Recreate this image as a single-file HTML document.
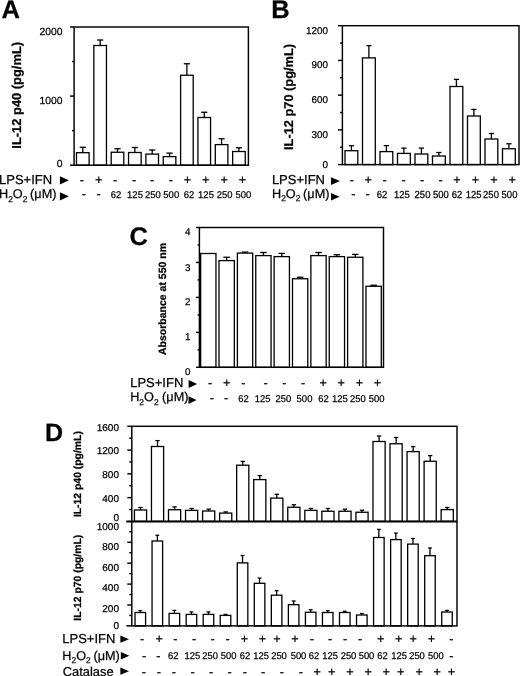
<!DOCTYPE html>
<html><head><meta charset="utf-8"><style>
html,body{margin:0;padding:0;background:#fff;}
svg{display:block;will-change:transform;}
text{font-family:"Liberation Sans",sans-serif;fill:#000;stroke:#000;stroke-width:0.25px;text-rendering:geometricPrecision;}
</style></head><body>
<svg width="520" height="676" viewBox="0 0 520 676">
<g stroke="#000" fill="none">
<text x="1.60" y="17.70" font-size="25.5" text-anchor="start" font-weight="bold">A</text>
<rect x="76.50" y="152.70" width="12.60" height="12.50" fill="#fff" stroke-width="1.3"/>
<line x1="82.80" y1="152.70" x2="82.80" y2="147.30" stroke-width="1.3"/>
<line x1="79.70" y1="147.30" x2="85.90" y2="147.30" stroke-width="1.3"/>
<rect x="93.85" y="45.50" width="12.60" height="119.70" fill="#fff" stroke-width="1.3"/>
<line x1="100.15" y1="45.50" x2="100.15" y2="40.00" stroke-width="1.3"/>
<line x1="97.05" y1="40.00" x2="103.25" y2="40.00" stroke-width="1.3"/>
<rect x="111.20" y="152.25" width="12.60" height="12.95" fill="#fff" stroke-width="1.3"/>
<line x1="117.50" y1="152.25" x2="117.50" y2="148.75" stroke-width="1.3"/>
<line x1="114.40" y1="148.75" x2="120.60" y2="148.75" stroke-width="1.3"/>
<rect x="128.55" y="152.50" width="12.60" height="12.70" fill="#fff" stroke-width="1.3"/>
<line x1="134.85" y1="152.50" x2="134.85" y2="147.50" stroke-width="1.3"/>
<line x1="131.75" y1="147.50" x2="137.95" y2="147.50" stroke-width="1.3"/>
<rect x="145.90" y="154.10" width="12.60" height="11.10" fill="#fff" stroke-width="1.3"/>
<line x1="152.20" y1="154.10" x2="152.20" y2="150.00" stroke-width="1.3"/>
<line x1="149.10" y1="150.00" x2="155.30" y2="150.00" stroke-width="1.3"/>
<rect x="163.25" y="156.60" width="12.60" height="8.60" fill="#fff" stroke-width="1.3"/>
<line x1="169.55" y1="156.60" x2="169.55" y2="153.10" stroke-width="1.3"/>
<line x1="166.45" y1="153.10" x2="172.65" y2="153.10" stroke-width="1.3"/>
<rect x="180.60" y="75.25" width="12.60" height="89.95" fill="#fff" stroke-width="1.3"/>
<line x1="186.90" y1="75.25" x2="186.90" y2="63.75" stroke-width="1.3"/>
<line x1="183.80" y1="63.75" x2="190.00" y2="63.75" stroke-width="1.3"/>
<rect x="197.95" y="117.50" width="12.60" height="47.70" fill="#fff" stroke-width="1.3"/>
<line x1="204.25" y1="117.50" x2="204.25" y2="112.25" stroke-width="1.3"/>
<line x1="201.15" y1="112.25" x2="207.35" y2="112.25" stroke-width="1.3"/>
<rect x="215.30" y="144.60" width="12.60" height="20.60" fill="#fff" stroke-width="1.3"/>
<line x1="221.60" y1="144.60" x2="221.60" y2="138.75" stroke-width="1.3"/>
<line x1="218.50" y1="138.75" x2="224.70" y2="138.75" stroke-width="1.3"/>
<rect x="232.65" y="151.50" width="12.60" height="13.70" fill="#fff" stroke-width="1.3"/>
<line x1="238.95" y1="151.50" x2="238.95" y2="147.75" stroke-width="1.3"/>
<line x1="235.85" y1="147.75" x2="242.05" y2="147.75" stroke-width="1.3"/>
<rect x="74.10" y="27.00" width="174.30" height="138.20" fill="none" stroke-width="1.45"/>
<line x1="70.00" y1="27.00" x2="74.10" y2="27.00" stroke-width="1.45"/>
<line x1="70.00" y1="165.20" x2="74.10" y2="165.20" stroke-width="1.45"/>
<line x1="70.00" y1="96.10" x2="74.10" y2="96.10" stroke-width="1.45"/>
<line x1="72.00" y1="130.65" x2="74.10" y2="130.65" stroke-width="1.45"/>
<line x1="72.00" y1="61.55" x2="74.10" y2="61.55" stroke-width="1.45"/>
<text x="62.40" y="34.60" font-size="10.3" text-anchor="end">2000</text>
<text x="62.40" y="103.80" font-size="10.3" text-anchor="end">1000</text>
<text x="62.40" y="167.40" font-size="10.3" text-anchor="end">0</text>
<text transform="translate(20.90,95.30) rotate(-90)" font-size="12.9" text-anchor="middle" font-weight="bold">IL-12 p40 (pg/mL)</text>
<text x="-1.00" y="184.10" font-size="13.0" text-anchor="start">LPS+IFN</text>
<polygon points="59.90,176.30 59.90,184.40 68.90,180.35" fill="#000" stroke="none"/>
<text x="-1.00" y="198.30" font-size="12.7">H<tspan font-size="8.4" dy="3.5">2</tspan><tspan dy="-3.5">O</tspan><tspan font-size="8.4" dy="3.5">2</tspan><tspan dy="-3.5" dx="-0.8"> (μM)</tspan></text>
<polygon points="59.90,192.30 59.90,200.40 68.90,196.35" fill="#000" stroke="none"/>
<text x="81.90" y="184.00" font-size="12.7" text-anchor="middle">-</text>
<text x="98.75" y="184.00" font-size="12.7" text-anchor="middle">+</text>
<text x="115.10" y="184.00" font-size="12.7" text-anchor="middle">-</text>
<text x="134.00" y="184.00" font-size="12.7" text-anchor="middle">-</text>
<text x="152.20" y="184.00" font-size="12.7" text-anchor="middle">-</text>
<text x="170.90" y="184.00" font-size="12.7" text-anchor="middle">-</text>
<text x="187.50" y="184.00" font-size="12.7" text-anchor="middle">+</text>
<text x="205.60" y="184.00" font-size="12.7" text-anchor="middle">+</text>
<text x="224.25" y="184.00" font-size="12.7" text-anchor="middle">+</text>
<text x="242.40" y="184.00" font-size="12.7" text-anchor="middle">+</text>
<text x="83.75" y="198.10" font-size="12.7" text-anchor="middle">-</text>
<text x="98.50" y="198.10" font-size="12.7" text-anchor="middle">-</text>
<text transform="translate(116.00,198.00) scale(0.965,1)" font-size="9.8" text-anchor="middle">62</text>
<text transform="translate(135.00,198.00) scale(0.965,1)" font-size="9.8" text-anchor="middle">125</text>
<text transform="translate(152.80,198.00) scale(0.965,1)" font-size="9.8" text-anchor="middle">250</text>
<text transform="translate(171.25,198.00) scale(0.965,1)" font-size="9.8" text-anchor="middle">500</text>
<text transform="translate(189.10,198.00) scale(0.965,1)" font-size="9.8" text-anchor="middle">62</text>
<text transform="translate(206.00,198.00) scale(0.965,1)" font-size="9.8" text-anchor="middle">125</text>
<text transform="translate(224.70,198.00) scale(0.965,1)" font-size="9.8" text-anchor="middle">250</text>
<text transform="translate(243.30,198.00) scale(0.965,1)" font-size="9.8" text-anchor="middle">500</text>
<text x="271.20" y="17.80" font-size="25.5" text-anchor="start" font-weight="bold">B</text>
<rect x="345.00" y="150.70" width="12.80" height="13.90" fill="#fff" stroke-width="1.3"/>
<line x1="351.40" y1="150.70" x2="351.40" y2="145.70" stroke-width="1.3"/>
<line x1="348.80" y1="145.70" x2="354.00" y2="145.70" stroke-width="1.3"/>
<rect x="362.50" y="57.90" width="12.80" height="106.70" fill="#fff" stroke-width="1.3"/>
<line x1="368.90" y1="57.90" x2="368.90" y2="45.60" stroke-width="1.3"/>
<line x1="366.30" y1="45.60" x2="371.50" y2="45.60" stroke-width="1.3"/>
<rect x="380.00" y="151.60" width="12.80" height="13.00" fill="#fff" stroke-width="1.3"/>
<line x1="386.40" y1="151.60" x2="386.40" y2="145.60" stroke-width="1.3"/>
<line x1="383.80" y1="145.60" x2="389.00" y2="145.60" stroke-width="1.3"/>
<rect x="397.50" y="153.40" width="12.80" height="11.20" fill="#fff" stroke-width="1.3"/>
<line x1="403.90" y1="153.40" x2="403.90" y2="148.10" stroke-width="1.3"/>
<line x1="401.30" y1="148.10" x2="406.50" y2="148.10" stroke-width="1.3"/>
<rect x="415.00" y="154.00" width="12.80" height="10.60" fill="#fff" stroke-width="1.3"/>
<line x1="421.40" y1="154.00" x2="421.40" y2="148.10" stroke-width="1.3"/>
<line x1="418.80" y1="148.10" x2="424.00" y2="148.10" stroke-width="1.3"/>
<rect x="432.50" y="156.00" width="12.80" height="8.60" fill="#fff" stroke-width="1.3"/>
<line x1="438.90" y1="156.00" x2="438.90" y2="152.50" stroke-width="1.3"/>
<line x1="436.30" y1="152.50" x2="441.50" y2="152.50" stroke-width="1.3"/>
<rect x="450.00" y="86.50" width="12.80" height="78.10" fill="#fff" stroke-width="1.3"/>
<line x1="456.40" y1="86.50" x2="456.40" y2="79.40" stroke-width="1.3"/>
<line x1="453.80" y1="79.40" x2="459.00" y2="79.40" stroke-width="1.3"/>
<rect x="467.50" y="116.00" width="12.80" height="48.60" fill="#fff" stroke-width="1.3"/>
<line x1="473.90" y1="116.00" x2="473.90" y2="109.40" stroke-width="1.3"/>
<line x1="471.30" y1="109.40" x2="476.50" y2="109.40" stroke-width="1.3"/>
<rect x="485.00" y="139.00" width="12.80" height="25.60" fill="#fff" stroke-width="1.3"/>
<line x1="491.40" y1="139.00" x2="491.40" y2="133.50" stroke-width="1.3"/>
<line x1="488.80" y1="133.50" x2="494.00" y2="133.50" stroke-width="1.3"/>
<rect x="502.50" y="148.75" width="12.80" height="15.85" fill="#fff" stroke-width="1.3"/>
<line x1="508.90" y1="148.75" x2="508.90" y2="143.75" stroke-width="1.3"/>
<line x1="506.30" y1="143.75" x2="511.50" y2="143.75" stroke-width="1.3"/>
<rect x="342.40" y="25.70" width="176.60" height="138.90" fill="none" stroke-width="1.45"/>
<line x1="338.00" y1="25.70" x2="342.40" y2="25.70" stroke-width="1.45"/>
<line x1="338.00" y1="164.60" x2="342.40" y2="164.60" stroke-width="1.45"/>
<line x1="338.00" y1="129.88" x2="342.40" y2="129.88" stroke-width="1.45"/>
<line x1="338.00" y1="95.15" x2="342.40" y2="95.15" stroke-width="1.45"/>
<line x1="338.00" y1="60.42" x2="342.40" y2="60.42" stroke-width="1.45"/>
<line x1="340.00" y1="147.24" x2="342.40" y2="147.24" stroke-width="1.45"/>
<line x1="340.00" y1="112.51" x2="342.40" y2="112.51" stroke-width="1.45"/>
<line x1="340.00" y1="77.79" x2="342.40" y2="77.79" stroke-width="1.45"/>
<line x1="340.00" y1="43.06" x2="342.40" y2="43.06" stroke-width="1.45"/>
<text x="328.00" y="33.90" font-size="9.9" text-anchor="end">1200</text>
<text x="328.00" y="68.40" font-size="9.9" text-anchor="end">900</text>
<text x="328.00" y="103.20" font-size="9.9" text-anchor="end">600</text>
<text x="328.00" y="138.00" font-size="9.9" text-anchor="end">300</text>
<text x="328.00" y="168.00" font-size="9.9" text-anchor="end">0</text>
<text transform="translate(293.10,97.00) rotate(-90)" font-size="12.8" text-anchor="middle" font-weight="bold">IL-12 p70 (pg/mL)</text>
<text x="271.90" y="184.00" font-size="13.0" text-anchor="start">LPS+IFN</text>
<polygon points="331.00,177.30 331.00,184.90 339.90,181.10" fill="#000" stroke="none"/>
<text x="272.00" y="197.70" font-size="12.7">H<tspan font-size="8.4" dy="3.5">2</tspan><tspan dy="-3.5">O</tspan><tspan font-size="8.4" dy="3.5">2</tspan><tspan dy="-3.5" dx="-0.8"> (μM)</tspan></text>
<polygon points="331.00,193.10 331.00,200.60 339.60,196.85" fill="#000" stroke="none"/>
<text x="351.75" y="183.70" font-size="12.7" text-anchor="middle">-</text>
<text x="368.25" y="183.70" font-size="12.7" text-anchor="middle">+</text>
<text x="384.50" y="183.70" font-size="12.7" text-anchor="middle">-</text>
<text x="403.60" y="183.70" font-size="12.7" text-anchor="middle">-</text>
<text x="422.00" y="183.70" font-size="12.7" text-anchor="middle">-</text>
<text x="440.50" y="183.70" font-size="12.7" text-anchor="middle">-</text>
<text x="457.00" y="183.70" font-size="12.7" text-anchor="middle">+</text>
<text x="475.40" y="183.70" font-size="12.7" text-anchor="middle">+</text>
<text x="494.00" y="183.70" font-size="12.7" text-anchor="middle">+</text>
<text x="512.20" y="183.70" font-size="12.7" text-anchor="middle">+</text>
<text x="353.30" y="197.70" font-size="12.7" text-anchor="middle">-</text>
<text x="367.60" y="197.70" font-size="12.7" text-anchor="middle">-</text>
<text transform="translate(382.10,197.80) scale(0.93,1)" font-size="10.2" text-anchor="middle">62</text>
<text transform="translate(401.90,197.80) scale(0.93,1)" font-size="10.2" text-anchor="middle">125</text>
<text transform="translate(422.50,197.80) scale(0.93,1)" font-size="10.2" text-anchor="middle">250</text>
<text transform="translate(440.90,197.80) scale(0.93,1)" font-size="10.2" text-anchor="middle">500</text>
<text transform="translate(457.00,197.80) scale(0.93,1)" font-size="10.2" text-anchor="middle">62</text>
<text transform="translate(473.60,197.80) scale(0.93,1)" font-size="10.2" text-anchor="middle">125</text>
<text transform="translate(491.00,197.80) scale(0.93,1)" font-size="10.2" text-anchor="middle">250</text>
<text transform="translate(509.50,197.80) scale(0.93,1)" font-size="10.2" text-anchor="middle">500</text>
<text x="129.50" y="245.30" font-size="25.5" text-anchor="start" font-weight="bold">C</text>
<rect x="200.65" y="253.50" width="15.30" height="113.80" fill="#fff" stroke-width="1.3"/>
<rect x="219.02" y="260.60" width="15.30" height="106.70" fill="#fff" stroke-width="1.3"/>
<line x1="226.67" y1="260.60" x2="226.67" y2="257.25" stroke-width="1.3"/>
<line x1="223.42" y1="257.25" x2="229.92" y2="257.25" stroke-width="1.3"/>
<rect x="237.39" y="253.10" width="15.30" height="114.20" fill="#fff" stroke-width="1.3"/>
<line x1="245.04" y1="253.10" x2="245.04" y2="252.10" stroke-width="1.3"/>
<line x1="241.79" y1="252.10" x2="248.29" y2="252.10" stroke-width="1.3"/>
<rect x="255.76" y="255.60" width="15.30" height="111.70" fill="#fff" stroke-width="1.3"/>
<line x1="263.41" y1="255.60" x2="263.41" y2="252.50" stroke-width="1.3"/>
<line x1="260.16" y1="252.50" x2="266.66" y2="252.50" stroke-width="1.3"/>
<rect x="274.13" y="256.60" width="15.30" height="110.70" fill="#fff" stroke-width="1.3"/>
<line x1="281.78" y1="256.60" x2="281.78" y2="253.40" stroke-width="1.3"/>
<line x1="278.53" y1="253.40" x2="285.03" y2="253.40" stroke-width="1.3"/>
<rect x="292.50" y="278.75" width="15.30" height="88.55" fill="#fff" stroke-width="1.3"/>
<line x1="300.15" y1="278.75" x2="300.15" y2="277.25" stroke-width="1.3"/>
<line x1="296.90" y1="277.25" x2="303.40" y2="277.25" stroke-width="1.3"/>
<rect x="310.87" y="255.60" width="15.30" height="111.70" fill="#fff" stroke-width="1.3"/>
<line x1="318.52" y1="255.60" x2="318.52" y2="252.50" stroke-width="1.3"/>
<line x1="315.27" y1="252.50" x2="321.77" y2="252.50" stroke-width="1.3"/>
<rect x="329.24" y="256.60" width="15.30" height="110.70" fill="#fff" stroke-width="1.3"/>
<line x1="336.89" y1="256.60" x2="336.89" y2="254.75" stroke-width="1.3"/>
<line x1="333.64" y1="254.75" x2="340.14" y2="254.75" stroke-width="1.3"/>
<rect x="347.61" y="257.25" width="15.30" height="110.05" fill="#fff" stroke-width="1.3"/>
<line x1="355.26" y1="257.25" x2="355.26" y2="254.40" stroke-width="1.3"/>
<line x1="352.01" y1="254.40" x2="358.51" y2="254.40" stroke-width="1.3"/>
<rect x="365.98" y="286.25" width="15.30" height="81.05" fill="#fff" stroke-width="1.3"/>
<line x1="373.63" y1="286.25" x2="373.63" y2="285.25" stroke-width="1.3"/>
<line x1="370.38" y1="285.25" x2="376.88" y2="285.25" stroke-width="1.3"/>
<rect x="199.40" y="227.50" width="184.10" height="139.80" fill="none" stroke-width="1.45"/>
<line x1="196.00" y1="227.50" x2="199.40" y2="227.50" stroke-width="1.45"/>
<line x1="196.00" y1="367.30" x2="199.40" y2="367.30" stroke-width="1.45"/>
<line x1="196.00" y1="332.35" x2="199.40" y2="332.35" stroke-width="1.45"/>
<line x1="196.00" y1="297.40" x2="199.40" y2="297.40" stroke-width="1.45"/>
<line x1="196.00" y1="262.45" x2="199.40" y2="262.45" stroke-width="1.45"/>
<line x1="197.60" y1="349.82" x2="199.40" y2="349.82" stroke-width="1.45"/>
<line x1="197.60" y1="314.88" x2="199.40" y2="314.88" stroke-width="1.45"/>
<line x1="197.60" y1="279.93" x2="199.40" y2="279.93" stroke-width="1.45"/>
<line x1="197.60" y1="244.97" x2="199.40" y2="244.97" stroke-width="1.45"/>
<text x="190.40" y="235.30" font-size="9.8" text-anchor="end">4</text>
<text x="190.40" y="270.60" font-size="9.8" text-anchor="end">3</text>
<text x="190.40" y="305.40" font-size="9.8" text-anchor="end">2</text>
<text x="190.40" y="339.90" font-size="9.8" text-anchor="end">1</text>
<text x="190.40" y="375.00" font-size="9.8" text-anchor="end">0</text>
<text transform="translate(165.90,299.00) rotate(-90)" font-size="10.5" text-anchor="middle" font-weight="bold">Absorbance at 550 nm</text>
<text x="130.20" y="387.00" font-size="13.0" text-anchor="start">LPS+IFN</text>
<polygon points="188.60,379.90 188.60,387.90 197.10,383.90" fill="#000" stroke="none"/>
<text x="130.20" y="401.40" font-size="12.7">H<tspan font-size="8.4" dy="3.5">2</tspan><tspan dy="-3.5">O</tspan><tspan font-size="8.4" dy="3.5">2</tspan><tspan dy="-3.5" dx="0"> (μM)</tspan></text>
<polygon points="188.50,396.30 188.50,403.90 196.60,400.10" fill="#000" stroke="none"/>
<text x="210.00" y="387.30" font-size="12.7" text-anchor="middle">-</text>
<text x="226.75" y="387.30" font-size="12.7" text-anchor="middle">+</text>
<text x="243.40" y="387.30" font-size="12.7" text-anchor="middle">-</text>
<text x="265.60" y="387.30" font-size="12.7" text-anchor="middle">-</text>
<text x="284.25" y="387.30" font-size="12.7" text-anchor="middle">-</text>
<text x="303.00" y="387.30" font-size="12.7" text-anchor="middle">-</text>
<text x="323.20" y="387.30" font-size="12.7" text-anchor="middle">+</text>
<text x="341.10" y="387.30" font-size="12.7" text-anchor="middle">+</text>
<text x="359.40" y="387.30" font-size="12.7" text-anchor="middle">+</text>
<text x="377.50" y="387.30" font-size="12.7" text-anchor="middle">+</text>
<text x="211.90" y="401.70" font-size="12.7" text-anchor="middle">-</text>
<text x="226.20" y="401.70" font-size="12.7" text-anchor="middle">-</text>
<text transform="translate(243.40,401.80) scale(0.965,1)" font-size="9.8" text-anchor="middle">62</text>
<text transform="translate(262.60,401.80) scale(0.965,1)" font-size="9.8" text-anchor="middle">125</text>
<text transform="translate(283.40,401.80) scale(0.965,1)" font-size="9.8" text-anchor="middle">250</text>
<text transform="translate(304.50,401.80) scale(0.965,1)" font-size="9.8" text-anchor="middle">500</text>
<text transform="translate(323.40,401.80) scale(0.965,1)" font-size="9.8" text-anchor="middle">62</text>
<text transform="translate(339.80,401.80) scale(0.965,1)" font-size="9.8" text-anchor="middle">125</text>
<text transform="translate(357.90,401.80) scale(0.965,1)" font-size="9.8" text-anchor="middle">250</text>
<text transform="translate(376.60,401.80) scale(0.965,1)" font-size="9.8" text-anchor="middle">500</text>
<text x="44.90" y="441.20" font-size="25.0" text-anchor="start" font-weight="bold">D</text>
<rect x="134.43" y="510.00" width="12.15" height="11.40" fill="#fff" stroke-width="1.3"/>
<line x1="140.50" y1="510.00" x2="140.50" y2="507.50" stroke-width="1.3"/>
<line x1="138.30" y1="507.50" x2="142.70" y2="507.50" stroke-width="1.3"/>
<rect x="135.03" y="612.50" width="10.55" height="13.40" fill="#fff" stroke-width="1.3"/>
<line x1="140.30" y1="612.50" x2="140.30" y2="610.60" stroke-width="1.3"/>
<line x1="138.40" y1="610.60" x2="142.20" y2="610.60" stroke-width="1.3"/>
<rect x="151.47" y="446.50" width="12.15" height="74.90" fill="#fff" stroke-width="1.3"/>
<line x1="157.54" y1="446.50" x2="157.54" y2="440.60" stroke-width="1.3"/>
<line x1="155.34" y1="440.60" x2="159.74" y2="440.60" stroke-width="1.3"/>
<rect x="152.06" y="541.00" width="10.55" height="84.90" fill="#fff" stroke-width="1.3"/>
<line x1="157.34" y1="541.00" x2="157.34" y2="535.25" stroke-width="1.3"/>
<line x1="155.44" y1="535.25" x2="159.24" y2="535.25" stroke-width="1.3"/>
<rect x="168.50" y="509.75" width="12.15" height="11.65" fill="#fff" stroke-width="1.3"/>
<line x1="174.58" y1="509.75" x2="174.58" y2="506.90" stroke-width="1.3"/>
<line x1="172.38" y1="506.90" x2="176.78" y2="506.90" stroke-width="1.3"/>
<rect x="169.10" y="613.40" width="10.55" height="12.50" fill="#fff" stroke-width="1.3"/>
<line x1="174.38" y1="613.40" x2="174.38" y2="610.40" stroke-width="1.3"/>
<line x1="172.48" y1="610.40" x2="176.28" y2="610.40" stroke-width="1.3"/>
<rect x="185.55" y="510.40" width="12.15" height="11.00" fill="#fff" stroke-width="1.3"/>
<line x1="191.62" y1="510.40" x2="191.62" y2="508.50" stroke-width="1.3"/>
<line x1="189.42" y1="508.50" x2="193.82" y2="508.50" stroke-width="1.3"/>
<rect x="186.15" y="614.40" width="10.55" height="11.50" fill="#fff" stroke-width="1.3"/>
<line x1="191.42" y1="614.40" x2="191.42" y2="611.90" stroke-width="1.3"/>
<line x1="189.52" y1="611.90" x2="193.32" y2="611.90" stroke-width="1.3"/>
<rect x="202.59" y="511.00" width="12.15" height="10.40" fill="#fff" stroke-width="1.3"/>
<line x1="208.66" y1="511.00" x2="208.66" y2="509.10" stroke-width="1.3"/>
<line x1="206.46" y1="509.10" x2="210.86" y2="509.10" stroke-width="1.3"/>
<rect x="203.19" y="614.40" width="10.55" height="11.50" fill="#fff" stroke-width="1.3"/>
<line x1="208.46" y1="614.40" x2="208.46" y2="611.90" stroke-width="1.3"/>
<line x1="206.56" y1="611.90" x2="210.36" y2="611.90" stroke-width="1.3"/>
<rect x="219.62" y="513.10" width="12.15" height="8.30" fill="#fff" stroke-width="1.3"/>
<line x1="225.70" y1="513.10" x2="225.70" y2="511.90" stroke-width="1.3"/>
<line x1="223.50" y1="511.90" x2="227.90" y2="511.90" stroke-width="1.3"/>
<rect x="220.22" y="615.40" width="10.55" height="10.50" fill="#fff" stroke-width="1.3"/>
<line x1="225.50" y1="615.40" x2="225.50" y2="614.40" stroke-width="1.3"/>
<line x1="223.60" y1="614.40" x2="227.40" y2="614.40" stroke-width="1.3"/>
<rect x="236.67" y="465.20" width="12.15" height="56.20" fill="#fff" stroke-width="1.3"/>
<line x1="242.74" y1="465.20" x2="242.74" y2="461.40" stroke-width="1.3"/>
<line x1="240.54" y1="461.40" x2="244.94" y2="461.40" stroke-width="1.3"/>
<rect x="237.27" y="562.90" width="10.55" height="63.00" fill="#fff" stroke-width="1.3"/>
<line x1="242.54" y1="562.90" x2="242.54" y2="555.50" stroke-width="1.3"/>
<line x1="240.64" y1="555.50" x2="244.44" y2="555.50" stroke-width="1.3"/>
<rect x="253.70" y="479.60" width="12.15" height="41.80" fill="#fff" stroke-width="1.3"/>
<line x1="259.78" y1="479.60" x2="259.78" y2="475.60" stroke-width="1.3"/>
<line x1="257.58" y1="475.60" x2="261.98" y2="475.60" stroke-width="1.3"/>
<rect x="254.30" y="583.30" width="10.55" height="42.60" fill="#fff" stroke-width="1.3"/>
<line x1="259.58" y1="583.30" x2="259.58" y2="578.10" stroke-width="1.3"/>
<line x1="257.68" y1="578.10" x2="261.48" y2="578.10" stroke-width="1.3"/>
<rect x="270.74" y="498.10" width="12.15" height="23.30" fill="#fff" stroke-width="1.3"/>
<line x1="276.82" y1="498.10" x2="276.82" y2="494.30" stroke-width="1.3"/>
<line x1="274.62" y1="494.30" x2="279.02" y2="494.30" stroke-width="1.3"/>
<rect x="271.34" y="595.20" width="10.55" height="30.70" fill="#fff" stroke-width="1.3"/>
<line x1="276.62" y1="595.20" x2="276.62" y2="590.70" stroke-width="1.3"/>
<line x1="274.72" y1="590.70" x2="278.52" y2="590.70" stroke-width="1.3"/>
<rect x="287.78" y="507.25" width="12.15" height="14.15" fill="#fff" stroke-width="1.3"/>
<line x1="293.86" y1="507.25" x2="293.86" y2="504.75" stroke-width="1.3"/>
<line x1="291.66" y1="504.75" x2="296.06" y2="504.75" stroke-width="1.3"/>
<rect x="288.38" y="604.70" width="10.55" height="21.20" fill="#fff" stroke-width="1.3"/>
<line x1="293.66" y1="604.70" x2="293.66" y2="601.00" stroke-width="1.3"/>
<line x1="291.76" y1="601.00" x2="295.56" y2="601.00" stroke-width="1.3"/>
<rect x="304.82" y="510.40" width="12.15" height="11.00" fill="#fff" stroke-width="1.3"/>
<line x1="310.90" y1="510.40" x2="310.90" y2="508.50" stroke-width="1.3"/>
<line x1="308.70" y1="508.50" x2="313.10" y2="508.50" stroke-width="1.3"/>
<rect x="305.42" y="612.25" width="10.55" height="13.65" fill="#fff" stroke-width="1.3"/>
<line x1="310.70" y1="612.25" x2="310.70" y2="609.75" stroke-width="1.3"/>
<line x1="308.80" y1="609.75" x2="312.60" y2="609.75" stroke-width="1.3"/>
<rect x="321.86" y="511.25" width="12.15" height="10.15" fill="#fff" stroke-width="1.3"/>
<line x1="327.94" y1="511.25" x2="327.94" y2="508.50" stroke-width="1.3"/>
<line x1="325.74" y1="508.50" x2="330.14" y2="508.50" stroke-width="1.3"/>
<rect x="322.46" y="612.50" width="10.55" height="13.40" fill="#fff" stroke-width="1.3"/>
<line x1="327.74" y1="612.50" x2="327.74" y2="610.60" stroke-width="1.3"/>
<line x1="325.84" y1="610.60" x2="329.64" y2="610.60" stroke-width="1.3"/>
<rect x="338.90" y="511.25" width="12.15" height="10.15" fill="#fff" stroke-width="1.3"/>
<line x1="344.98" y1="511.25" x2="344.98" y2="509.20" stroke-width="1.3"/>
<line x1="342.78" y1="509.20" x2="347.18" y2="509.20" stroke-width="1.3"/>
<rect x="339.50" y="612.50" width="10.55" height="13.40" fill="#fff" stroke-width="1.3"/>
<line x1="344.78" y1="612.50" x2="344.78" y2="611.25" stroke-width="1.3"/>
<line x1="342.88" y1="611.25" x2="346.68" y2="611.25" stroke-width="1.3"/>
<rect x="355.94" y="512.25" width="12.15" height="9.15" fill="#fff" stroke-width="1.3"/>
<line x1="362.02" y1="512.25" x2="362.02" y2="510.25" stroke-width="1.3"/>
<line x1="359.82" y1="510.25" x2="364.22" y2="510.25" stroke-width="1.3"/>
<rect x="356.54" y="615.00" width="10.55" height="10.90" fill="#fff" stroke-width="1.3"/>
<line x1="361.82" y1="615.00" x2="361.82" y2="613.50" stroke-width="1.3"/>
<line x1="359.92" y1="613.50" x2="363.72" y2="613.50" stroke-width="1.3"/>
<rect x="372.98" y="441.50" width="12.15" height="79.90" fill="#fff" stroke-width="1.3"/>
<line x1="379.06" y1="441.50" x2="379.06" y2="436.00" stroke-width="1.3"/>
<line x1="376.86" y1="436.00" x2="381.26" y2="436.00" stroke-width="1.3"/>
<rect x="373.58" y="537.50" width="10.55" height="88.40" fill="#fff" stroke-width="1.3"/>
<line x1="378.86" y1="537.50" x2="378.86" y2="529.40" stroke-width="1.3"/>
<line x1="376.96" y1="529.40" x2="380.76" y2="529.40" stroke-width="1.3"/>
<rect x="390.02" y="443.75" width="12.15" height="77.65" fill="#fff" stroke-width="1.3"/>
<line x1="396.10" y1="443.75" x2="396.10" y2="437.50" stroke-width="1.3"/>
<line x1="393.90" y1="437.50" x2="398.30" y2="437.50" stroke-width="1.3"/>
<rect x="390.62" y="539.60" width="10.55" height="86.30" fill="#fff" stroke-width="1.3"/>
<line x1="395.90" y1="539.60" x2="395.90" y2="533.10" stroke-width="1.3"/>
<line x1="394.00" y1="533.10" x2="397.80" y2="533.10" stroke-width="1.3"/>
<rect x="407.06" y="451.60" width="12.15" height="69.80" fill="#fff" stroke-width="1.3"/>
<line x1="413.14" y1="451.60" x2="413.14" y2="446.60" stroke-width="1.3"/>
<line x1="410.94" y1="446.60" x2="415.34" y2="446.60" stroke-width="1.3"/>
<rect x="407.66" y="544.10" width="10.55" height="81.80" fill="#fff" stroke-width="1.3"/>
<line x1="412.94" y1="544.10" x2="412.94" y2="538.50" stroke-width="1.3"/>
<line x1="411.04" y1="538.50" x2="414.84" y2="538.50" stroke-width="1.3"/>
<rect x="424.10" y="461.25" width="12.15" height="60.15" fill="#fff" stroke-width="1.3"/>
<line x1="430.18" y1="461.25" x2="430.18" y2="455.60" stroke-width="1.3"/>
<line x1="427.98" y1="455.60" x2="432.38" y2="455.60" stroke-width="1.3"/>
<rect x="424.70" y="555.70" width="10.55" height="70.20" fill="#fff" stroke-width="1.3"/>
<line x1="429.98" y1="555.70" x2="429.98" y2="548.00" stroke-width="1.3"/>
<line x1="428.08" y1="548.00" x2="431.88" y2="548.00" stroke-width="1.3"/>
<rect x="441.14" y="509.60" width="12.15" height="11.80" fill="#fff" stroke-width="1.3"/>
<line x1="447.22" y1="509.60" x2="447.22" y2="507.50" stroke-width="1.3"/>
<line x1="445.02" y1="507.50" x2="449.42" y2="507.50" stroke-width="1.3"/>
<rect x="441.74" y="612.00" width="10.55" height="13.90" fill="#fff" stroke-width="1.3"/>
<line x1="447.02" y1="612.00" x2="447.02" y2="610.40" stroke-width="1.3"/>
<line x1="445.12" y1="610.40" x2="448.92" y2="610.40" stroke-width="1.3"/>
<rect x="131.80" y="426.30" width="325.20" height="199.60" fill="none" stroke-width="1.45"/>
<line x1="127.30" y1="426.30" x2="131.80" y2="426.30" stroke-width="1.45"/>
<line x1="126.30" y1="521.40" x2="457.00" y2="521.40" stroke-width="2.0"/>
<line x1="126.30" y1="625.90" x2="131.80" y2="625.90" stroke-width="1.45"/>
<line x1="127.30" y1="497.62" x2="131.80" y2="497.62" stroke-width="1.45"/>
<line x1="127.30" y1="473.85" x2="131.80" y2="473.85" stroke-width="1.45"/>
<line x1="127.30" y1="450.07" x2="131.80" y2="450.07" stroke-width="1.45"/>
<line x1="129.30" y1="509.51" x2="131.80" y2="509.51" stroke-width="1.45"/>
<line x1="129.30" y1="485.74" x2="131.80" y2="485.74" stroke-width="1.45"/>
<line x1="129.30" y1="461.96" x2="131.80" y2="461.96" stroke-width="1.45"/>
<line x1="129.30" y1="438.19" x2="131.80" y2="438.19" stroke-width="1.45"/>
<line x1="127.30" y1="605.00" x2="131.80" y2="605.00" stroke-width="1.45"/>
<line x1="127.30" y1="584.10" x2="131.80" y2="584.10" stroke-width="1.45"/>
<line x1="127.30" y1="563.20" x2="131.80" y2="563.20" stroke-width="1.45"/>
<line x1="127.30" y1="542.30" x2="131.80" y2="542.30" stroke-width="1.45"/>
<line x1="129.30" y1="615.45" x2="131.80" y2="615.45" stroke-width="1.45"/>
<line x1="129.30" y1="594.55" x2="131.80" y2="594.55" stroke-width="1.45"/>
<line x1="129.30" y1="573.65" x2="131.80" y2="573.65" stroke-width="1.45"/>
<line x1="129.30" y1="552.75" x2="131.80" y2="552.75" stroke-width="1.45"/>
<line x1="129.30" y1="531.85" x2="131.80" y2="531.85" stroke-width="1.45"/>
<text x="119.00" y="430.80" font-size="10" text-anchor="end">1600</text>
<text x="119.00" y="454.00" font-size="10" text-anchor="end">1200</text>
<text x="119.00" y="478.20" font-size="10" text-anchor="end">800</text>
<text x="119.00" y="501.80" font-size="10" text-anchor="end">400</text>
<text x="119.00" y="520.70" font-size="10" text-anchor="end">0</text>
<text x="119.00" y="530.00" font-size="10" text-anchor="end">1000</text>
<text x="119.00" y="549.80" font-size="10" text-anchor="end">800</text>
<text x="119.00" y="570.90" font-size="10" text-anchor="end">600</text>
<text x="119.00" y="591.20" font-size="10" text-anchor="end">400</text>
<text x="119.00" y="612.40" font-size="10" text-anchor="end">200</text>
<text x="119.00" y="629.40" font-size="10" text-anchor="end">0</text>
<text transform="translate(81.40,474.10) rotate(-90)" font-size="10.4" text-anchor="middle" font-weight="bold">IL-12 p40 (pg/mL)</text>
<text transform="translate(81.30,577.70) rotate(-90)" font-size="10.4" text-anchor="middle" font-weight="bold">IL-12 p70 (pg/mL)</text>
<text x="62.30" y="643.00" font-size="13.0" text-anchor="start">LPS+IFN</text>
<polygon points="120.40,635.60 120.40,642.80 129.00,639.20" fill="#000" stroke="none"/>
<text x="62.30" y="659.90" font-size="12.7">H<tspan font-size="8.4" dy="3.5">2</tspan><tspan dy="-3.5">O</tspan><tspan font-size="8.4" dy="3.5">2</tspan><tspan dy="-3.5" dx="-0.8"> (μM)</tspan></text>
<polygon points="120.80,652.00 120.80,659.60 129.40,655.80" fill="#000" stroke="none"/>
<text x="62.70" y="675.70" font-size="12.9" text-anchor="start">Catalase</text>
<polygon points="120.40,667.60 120.40,674.80 129.00,671.20" fill="#000" stroke="none"/>
<text x="142.00" y="643.30" font-size="12.7" text-anchor="middle">-</text>
<text x="159.10" y="643.30" font-size="12.7" text-anchor="middle">+</text>
<text x="175.40" y="643.30" font-size="12.7" text-anchor="middle">-</text>
<text x="194.00" y="643.30" font-size="12.7" text-anchor="middle">-</text>
<text x="212.50" y="643.30" font-size="12.7" text-anchor="middle">-</text>
<text x="227.70" y="643.30" font-size="12.7" text-anchor="middle">-</text>
<text x="244.40" y="643.30" font-size="12.7" text-anchor="middle">+</text>
<text x="262.50" y="643.30" font-size="12.7" text-anchor="middle">+</text>
<text x="276.90" y="643.30" font-size="12.7" text-anchor="middle">+</text>
<text x="295.00" y="643.30" font-size="12.7" text-anchor="middle">+</text>
<text x="311.90" y="643.30" font-size="12.7" text-anchor="middle">-</text>
<text x="330.00" y="643.30" font-size="12.7" text-anchor="middle">-</text>
<text x="345.10" y="643.30" font-size="12.7" text-anchor="middle">-</text>
<text x="360.20" y="643.30" font-size="12.7" text-anchor="middle">-</text>
<text x="380.60" y="643.30" font-size="12.7" text-anchor="middle">+</text>
<text x="398.75" y="643.30" font-size="12.7" text-anchor="middle">+</text>
<text x="413.10" y="643.30" font-size="12.7" text-anchor="middle">+</text>
<text x="431.50" y="643.30" font-size="12.7" text-anchor="middle">+</text>
<text x="451.30" y="643.30" font-size="12.7" text-anchor="middle">-</text>
<text x="144.10" y="659.50" font-size="12.7" text-anchor="middle">-</text>
<text x="158.30" y="659.50" font-size="12.7" text-anchor="middle">-</text>
<text transform="translate(173.30,659.30) scale(0.96,1)" font-size="9.8" text-anchor="middle">62</text>
<text transform="translate(192.40,659.30) scale(0.96,1)" font-size="9.8" text-anchor="middle">125</text>
<text transform="translate(210.10,659.30) scale(0.96,1)" font-size="9.8" text-anchor="middle">250</text>
<text transform="translate(228.60,659.30) scale(0.96,1)" font-size="9.8" text-anchor="middle">500</text>
<text transform="translate(244.90,659.30) scale(0.96,1)" font-size="9.8" text-anchor="middle">62</text>
<text transform="translate(261.10,659.30) scale(0.96,1)" font-size="9.8" text-anchor="middle">125</text>
<text transform="translate(279.00,659.30) scale(0.96,1)" font-size="9.8" text-anchor="middle">250</text>
<text transform="translate(298.50,659.30) scale(0.96,1)" font-size="9.8" text-anchor="middle">500</text>
<text transform="translate(314.00,659.30) scale(0.96,1)" font-size="9.8" text-anchor="middle">62</text>
<text transform="translate(330.10,659.30) scale(0.96,1)" font-size="9.8" text-anchor="middle">125</text>
<text transform="translate(348.50,659.30) scale(0.96,1)" font-size="9.8" text-anchor="middle">250</text>
<text transform="translate(366.50,659.30) scale(0.96,1)" font-size="9.8" text-anchor="middle">500</text>
<text transform="translate(382.50,659.30) scale(0.96,1)" font-size="9.8" text-anchor="middle">62</text>
<text transform="translate(399.20,659.30) scale(0.96,1)" font-size="9.8" text-anchor="middle">125</text>
<text transform="translate(417.00,659.30) scale(0.96,1)" font-size="9.8" text-anchor="middle">250</text>
<text transform="translate(435.80,659.30) scale(0.96,1)" font-size="9.8" text-anchor="middle">500</text>
<text x="451.30" y="659.50" font-size="12.7" text-anchor="middle">-</text>
<text x="143.75" y="675.50" font-size="12.7" text-anchor="middle">-</text>
<text x="158.90" y="675.50" font-size="12.7" text-anchor="middle">-</text>
<text x="173.75" y="675.50" font-size="12.7" text-anchor="middle">-</text>
<text x="192.50" y="675.50" font-size="12.7" text-anchor="middle">-</text>
<text x="211.10" y="675.50" font-size="12.7" text-anchor="middle">-</text>
<text x="229.70" y="675.50" font-size="12.7" text-anchor="middle">-</text>
<text x="244.80" y="675.50" font-size="12.7" text-anchor="middle">-</text>
<text x="263.10" y="675.50" font-size="12.7" text-anchor="middle">-</text>
<text x="281.75" y="675.50" font-size="12.7" text-anchor="middle">-</text>
<text x="300.75" y="675.50" font-size="12.7" text-anchor="middle">-</text>
<text x="317.20" y="675.50" font-size="12.7" text-anchor="middle">+</text>
<text x="331.75" y="675.50" font-size="12.7" text-anchor="middle">+</text>
<text x="349.90" y="675.50" font-size="12.7" text-anchor="middle">+</text>
<text x="368.10" y="675.50" font-size="12.7" text-anchor="middle">+</text>
<text x="386.10" y="675.50" font-size="12.7" text-anchor="middle">+</text>
<text x="400.75" y="675.50" font-size="12.7" text-anchor="middle">+</text>
<text x="419.20" y="675.50" font-size="12.7" text-anchor="middle">+</text>
<text x="437.20" y="675.50" font-size="12.7" text-anchor="middle">+</text>
<text x="451.50" y="675.50" font-size="12.7" text-anchor="middle">+</text>
</g>
</svg>
</body></html>
